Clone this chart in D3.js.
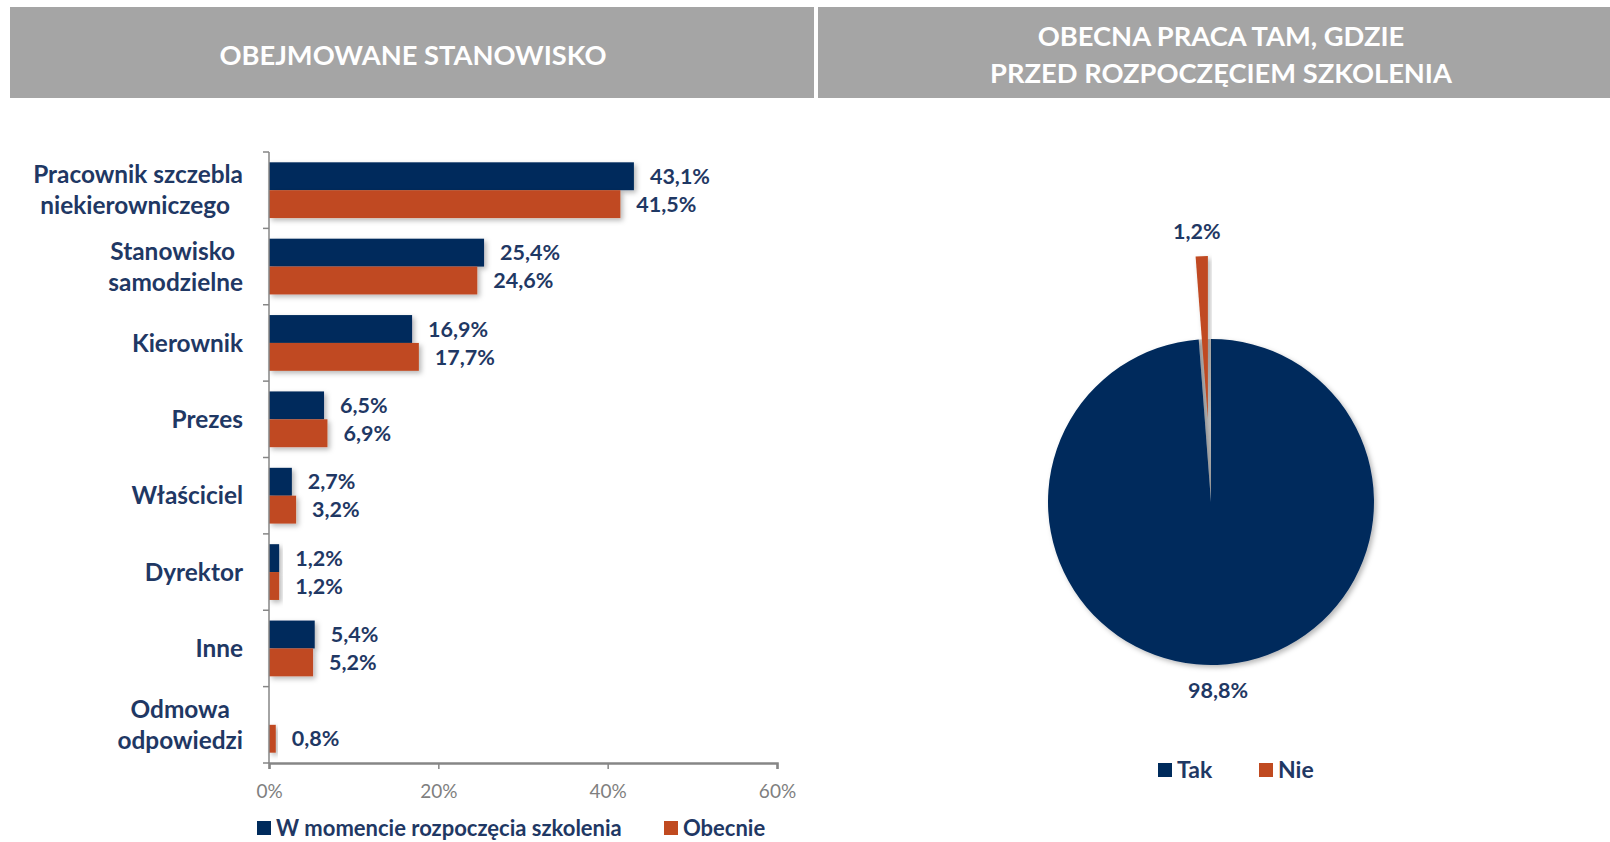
<!DOCTYPE html>
<html>
<head>
<meta charset="utf-8">
<script src="https://cdn.jsdelivr.net/npm/d3@7"></script>
<style>
  body { margin: 0; background: #fff; }
  svg { display: block; font-family: Lato, "Open Sans", sans-serif; }
</style>
</head>
<body>
<div id="chart"></div>
<script>
// data
const categories = [
  ["Pracownik szczebla", "niekierowniczego\u00a0"],
  ["Stanowisko\u00a0", "samodzielne"],
  ["Kierownik"],
  ["Prezes"],
  ["Właściciel"],
  ["Dyrektor"],
  ["Inne"],
  ["Odmowa", "odpowiedzi"]
];
const seriesNames = ["W momencie rozpoczęcia szkolenia", "Obecnie"];
const startValues = [43.1, 25.4, 16.9, 6.5, 2.7, 1.2, 5.4, null];
const nowValues = [41.5, 24.6, 17.7, 6.9, 3.2, 1.2, 5.2, 0.8];
const xTicks = [0, 20, 40, 60];

const pieNames = ["Tak", "Nie"];
const pieValues = [98.8, 1.2];

const titleLeft = ["OBEJMOWANE STANOWISKO"];
const titleRight = ["OBECNA PRACA TAM, GDZIE", "PRZED ROZPOCZĘCIEM SZKOLENIA"];

const width = 1610, height = 842;
const navy = "#002b5c", orange = "#c04a20", labelColor = "#1f3864";
const colors = [navy, orange];
const fmt = v => String(v.toFixed(1)).replace(".", ",") + "%";

const svg = d3.select("#chart").append("svg")
  .attr("width", width)
  .attr("height", height);

const defs = svg.append("defs");
defs.append("filter").attr("id", "shadow")
  .attr("x", "-20%").attr("y", "-20%").attr("width", "150%").attr("height", "150%")
  .append("feDropShadow")
  .attr("dx", 2.5).attr("dy", 2.5).attr("stdDeviation", 2.5)
  .attr("flood-color", "#000").attr("flood-opacity", 0.28);

// header boxes
const headers = [
  {x: 10, w: 804, lines: titleLeft, cx: 413},
  {x: 818, w: 792, lines: titleRight, cx: 1221}
];
headers.forEach(h => {
  svg.append("rect")
    .attr("x", h.x).attr("y", 7)
    .attr("width", h.w).attr("height", 91)
    .attr("fill", "#a5a5a5");
  const lh = 37;
  const y0 = 55 - (h.lines.length - 1) * lh / 2;
  h.lines.forEach((t, i) => {
    svg.append("text")
      .attr("x", h.cx).attr("y", y0 + i * lh)
      .attr("dy", "0.36em")
      .attr("text-anchor", "middle")
      .attr("fill", "#fff")
      .attr("font-weight", 700)
      .attr("font-size", "27.3px")
      .text(t);
  });
});

/* bar chart */
const x = d3.scaleLinear().domain([0, 60]).range([269, 777]);
const y = d3.scaleBand().domain(d3.range(categories.length)).range([152, 763]);
const ySub = d3.scaleBand().domain([0, 1]).range([0, y.bandwidth()])
  .paddingInner(0).paddingOuter(0.37);

const bars = svg.append("g");
[startValues, nowValues].forEach((vals, s) => {
  vals.forEach((v, i) => {
    if (v == null) return;
    bars.append("rect")
      .attr("x", x(0))
      .attr("y", y(i) + ySub(s))
      .attr("width", x(v) - x(0))
      .attr("height", ySub.bandwidth())
      .attr("fill", colors[s])
      .attr("filter", "url(#shadow)");
    bars.append("text")
      .attr("x", x(v) + 16)
      .attr("y", y(i) + ySub(s) + ySub.bandwidth() / 2)
      .attr("dy", "0.36em")
      .attr("fill", labelColor)
      .attr("font-weight", 700)
      .attr("font-size", "21.5px")
      .text(fmt(v));
  });
});

// left axis with ticks on category boundaries
const axisColor = "#868686";
svg.append("line")
  .attr("x1", x(0)).attr("x2", x(0))
  .attr("y1", y.range()[0]).attr("y2", y.range()[1])
  .attr("stroke", axisColor).attr("stroke-width", 1.5);
d3.range(categories.length + 1).forEach(i => {
  const yy = y.range()[0] + i * y.step();
  svg.append("line")
    .attr("x1", x(0) - 6).attr("x2", x(0))
    .attr("y1", yy).attr("y2", yy)
    .attr("stroke", axisColor).attr("stroke-width", 1.5);
});

// bottom axis
const xAxis = svg.append("g")
  .attr("transform", `translate(0,${y.range()[1]})`)
  .call(d3.axisBottom(x).tickValues(xTicks).tickSize(6).tickPadding(16)
    .tickFormat(d => d + "%"));
xAxis.select(".domain").attr("stroke", axisColor).attr("stroke-width", 2.5);
xAxis.selectAll(".tick line").attr("stroke", axisColor).attr("stroke-width", 1.5);
xAxis.selectAll(".tick text")
  .attr("fill", "#7f7f7f")
  .attr("font-family", "Lato, sans-serif")
  .attr("font-size", "19px");

// category labels, centred lines, block right-aligned
const catG = svg.append("g");
categories.forEach((lines, i) => {
  const cy = y(i) + y.bandwidth() / 2;
  const lh = 31;
  const texts = lines.map((t, k) => catG.append("text")
    .attr("y", cy + (k - (lines.length - 1) / 2) * lh)
    .attr("dy", "0.36em")
    .attr("text-anchor", "middle")
    .attr("fill", labelColor)
    .attr("font-weight", 700)
    .attr("font-size", "24.4px")
    .style("white-space", "pre")
    .text(t));
  const maxW = d3.max(texts, t => t.node().getComputedTextLength());
  texts.forEach(t => t.attr("x", 243 - maxW / 2));
});

// bar legend
const legendItems = [{x: 257, name: seriesNames[0], c: navy}, {x: 664, name: seriesNames[1], c: orange}];
legendItems.forEach(l => {
  svg.append("rect").attr("x", l.x).attr("y", 821).attr("width", 14).attr("height", 14).attr("fill", l.c);
  svg.append("text").attr("x", l.x + 19).attr("y", 828).attr("dy", "0.36em")
    .attr("fill", labelColor).attr("font-weight", 700).attr("font-size", "22px")
    .text(l.name);
});

/* pie chart */
const cx = 1211, cy = 502, R = 163, explode = 83;
const pie = d3.pie().sort(null).startAngle(0).endAngle(2 * Math.PI)(pieValues);
const arc = d3.arc().innerRadius(0).outerRadius(R);
const pg = svg.append("g").attr("transform", `translate(${cx},${cy})`);

// shadow gap where the exploded slice left
pg.append("path")
  .attr("d", arc(pie[1]))
  .attr("fill", "#c4c4c4");

pie.forEach((p, i) => {
  const mid = (p.startAngle + p.endAngle) / 2;
  const off = i === 1 ? explode : 0;
  const dx = Math.sin(mid) * off, dy = -Math.cos(mid) * off;
  pg.append("path")
    .attr("d", arc(p))
    .attr("transform", `translate(${dx},${dy})`)
    .attr("fill", colors[i])
    .attr("filter", "url(#shadow)");
  const lr = R + off + 25;
  pg.append("text")
    .attr("x", Math.sin(mid) * lr - (i === 1 ? 4 : 0))
    .attr("y", -Math.cos(mid) * lr)
    .attr("dy", "0.36em")
    .attr("text-anchor", "middle")
    .attr("fill", labelColor)
    .attr("font-weight", 700)
    .attr("font-size", "21.5px")
    .text(fmt(p.data));
});

// pie legend
const pieLegend = [{x: 1158, i: 0}, {x: 1259, i: 1}];
pieLegend.forEach(l => {
  svg.append("rect").attr("x", l.x).attr("y", 763).attr("width", 14).attr("height", 14).attr("fill", colors[l.i]);
  svg.append("text").attr("x", l.x + 19).attr("y", 770).attr("dy", "0.36em")
    .attr("fill", labelColor).attr("font-weight", 700).attr("font-size", "23px")
    .text(pieNames[l.i]);
});
</script>
</body>
</html>
